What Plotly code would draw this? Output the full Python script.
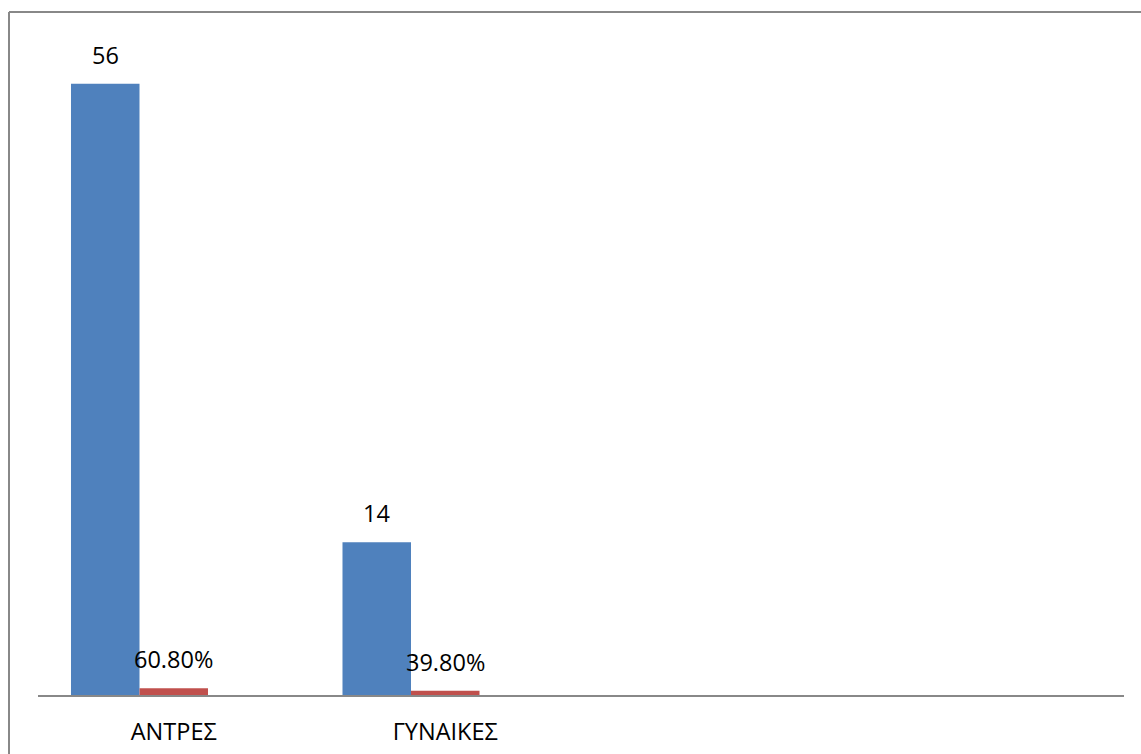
import plotly.graph_objects as go

# Data
categories = ["ΑΝΤΡΕΣ", "ΓΥΝΑΙΚΕΣ"]
counts = [56, 14]
shares = [0.608, 0.398]

# Category slots on a numeric axis (four slots, two used)
n_slots = 4
x_pos = list(range(len(categories)))

# Each slot holds three bar positions; the third stays empty
BARGAP = 0.243
BAR_W = (1 - BARGAP) / 3
OFF_1 = -(1 - BARGAP) / 2
OFF_2 = OFF_1 + BAR_W

W, H = 1141, 754
M_L, M_R, M_T, M_B = 38, 17, 40, 59
Y_MAX = 60

FONT = "Open Sans"
FSIZE = 23.5
BLUE = "#4F81BD"
RED = "#C0504D"
GREY = "#888888"

fig = go.Figure()
fig.add_trace(go.Bar(
    x=x_pos, y=counts, width=BAR_W, offset=OFF_1,
    marker=dict(color=BLUE, line=dict(width=0)),
    hoverinfo="skip",
))
fig.add_trace(go.Bar(
    x=x_pos, y=shares, width=BAR_W, offset=OFF_2,
    marker=dict(color=RED, line=dict(width=0)),
    hoverinfo="skip",
))

# Value labels above each bar
for xi, v in zip(x_pos, counts):
    fig.add_annotation(x=xi + OFF_1 + BAR_W / 2, y=v, text=f"{v}",
                       showarrow=False, yanchor="bottom", yshift=11,
                       font=dict(family=FONT, size=FSIZE, color="black"))
for xi, v in zip(x_pos, shares):
    fig.add_annotation(x=xi + OFF_2 + BAR_W / 2, y=v, text=f"{v:.2%}",
                       showarrow=False, yanchor="bottom", yshift=11,
                       font=dict(family=FONT, size=FSIZE, color="black"))

# Outer frame (top and left edges visible)
pw = W - M_L - M_R
ph = H - M_T - M_B
fx = (9 - M_L) / pw
fy = (H - M_B - 12) / ph
fig.add_shape(type="line", xref="paper", yref="paper",
              x0=fx, y0=fy, x1=(W - M_L) / pw, y1=fy,
              line=dict(color=GREY, width=2))
fig.add_shape(type="line", xref="paper", yref="paper",
              x0=fx, y0=fy, x1=fx, y1=-M_B / ph,
              line=dict(color=GREY, width=2))

fig.update_layout(
    width=W, height=H,
    margin=dict(l=M_L, r=M_R, t=M_T, b=M_B, pad=0, autoexpand=False),
    paper_bgcolor="white", plot_bgcolor="white",
    showlegend=False,
    barmode="overlay",
    font=dict(family=FONT, size=FSIZE, color="black"),
    xaxis=dict(
        range=[-0.5, n_slots - 0.5],
        tickmode="array", tickvals=x_pos, ticktext=categories,
        showline=True, linecolor=GREY, linewidth=2,
        ticks="", showgrid=False, zeroline=False,
        ticklabelstandoff=15, automargin=False,
        tickfont=dict(family=FONT, size=FSIZE, color="black"),
        fixedrange=True,
    ),
    yaxis=dict(
        range=[0, Y_MAX], visible=False, showgrid=False, zeroline=False,
        automargin=False, fixedrange=True,
    ),
)

fig.write_html("out.html", config={"displayModeBar": False})
